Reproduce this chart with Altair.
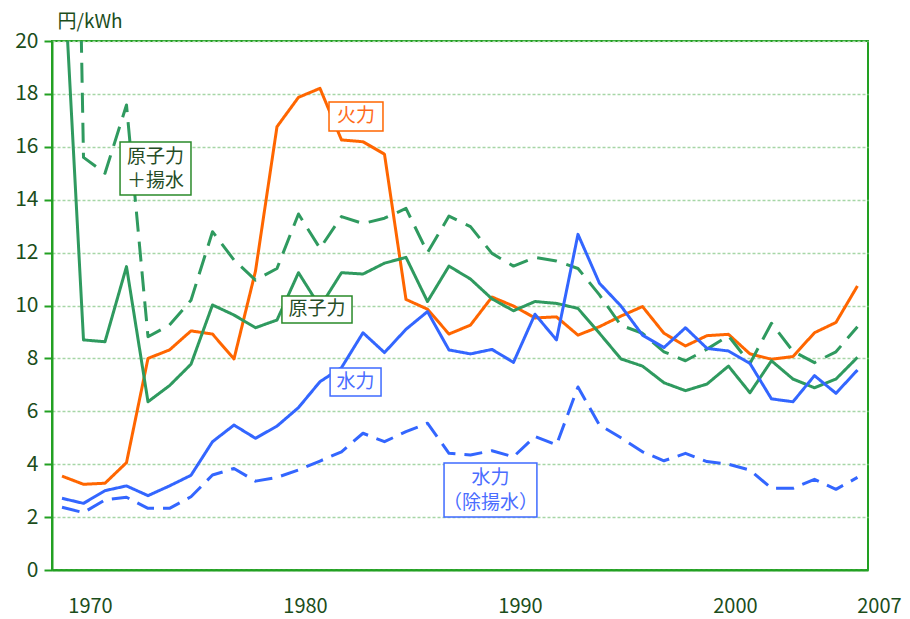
import altair as alt
import pandas as pd

years = list(range(1969, 2007))

fire = [3.55, 3.24, 3.28, 4.06, 8.0, 8.32, 9.04, 8.92, 7.98, 11.3, 16.76, 17.87, 18.21,
        16.26, 16.19, 15.72, 10.23, 9.86, 8.92, 9.26, 10.32, 9.98, 9.53, 9.57, 8.88, 9.2,
        9.6, 9.96, 8.95, 8.47, 8.86, 8.91, 8.17, 7.97, 8.07, 8.97, 9.36, 10.74]
nuclear = [24.0, 8.7, 8.63, 11.47, 6.36, 6.97, 7.78, 10.02, 9.64, 9.16, 9.45, 11.24, 9.95,
           11.24, 11.19, 11.6, 11.82, 10.15, 11.49, 11.0, 10.25, 9.8, 10.15, 10.08, 9.89,
           8.95, 7.98, 7.71, 7.08, 6.78, 7.03, 7.71, 6.7, 7.91, 7.22, 6.89, 7.22, 8.04]
nuc_pump = [60.0, 15.6, 15.0, 17.58, 8.82, 9.26, 10.2, 12.79, 11.72, 10.96, 11.4, 13.46,
            12.16, 13.36, 13.1, 13.3, 13.67, 12.0, 13.38, 12.98, 11.97, 11.49, 11.82, 11.68,
            11.4, 10.4, 9.25, 8.95, 8.25, 7.91, 8.35, 8.85, 7.81, 9.33, 8.27, 7.84, 8.25, 9.2]
hydro = [2.71, 2.52, 3.0, 3.18, 2.81, 3.18, 3.58, 4.85, 5.48, 4.98, 5.44, 6.14, 7.12, 7.65,
         8.97, 8.22, 9.1, 9.77, 8.32, 8.17, 8.34, 7.85, 9.67, 8.7, 12.69, 10.84, 9.98, 8.88,
         8.41, 9.16, 8.38, 8.28, 7.81, 6.47, 6.36, 7.35, 6.68, 7.56]
hydro_ex = [2.37, 2.17, 2.65, 2.75, 2.33, 2.33, 2.77, 3.59, 3.84, 3.36, 3.5, 3.78, 4.12,
            4.47, 5.17, 4.85, 5.23, 5.55, 4.41, 4.35, 4.51, 4.28, 5.05, 4.73, 6.92, 5.48,
            5.0, 4.47, 4.13, 4.41, 4.1, 4.0, 3.78, 3.09, 3.09, 3.43, 3.05, 3.5]

series_names = ["火力", "原子力", "原子力＋揚水", "水力", "水力（除揚水）"]
series_vals = [fire, nuclear, nuc_pump, hydro, hydro_ex]
series_color = ["#ff6600", "#2f9a5f", "#2f9a5f", "#3366ff", "#3366ff"]
series_dash = [[1, 0], [1, 0], [20, 10], [1, 0], [18, 9]]

x_ticks = [1970, 1980, 1990, 2000, 2006.3]
y_ticks = list(range(0, 21, 2))

# annotation boxes (data units)
box_x1 = [1981.42, 1971.70, 1979.23, 1981.47, 1986.77]
box_x2 = [1983.93, 1975.00, 1982.49, 1983.84, 1991.09]
box_y1 = [17.69, 16.18, 10.36, 7.64, 4.05]
box_y2 = [16.60, 14.18, 9.34, 6.58, 2.00]
box_stroke = ["#ff6600", "#2a8a2a", "#2a8a2a", "#3f6bff", "#3f6bff"]

# annotation text lines (data units)
lab_text = ["火力", "原子力", "＋揚水", "原子力", "水力", "水力", "（除揚水）"]
lab_x = [1982.67, 1973.35, 1973.35, 1980.86, 1982.65, 1988.93, 1988.93]
lab_y = [17.15, 15.60, 14.69, 9.85, 7.11, 3.46, 2.55]
lab_color = ["#ff6a1a", "#264d26", "#264d26", "#264d26", "#4a6dff", "#4a6dff", "#4a6dff"]

FONT = "Noto Sans CJK JP"
FRAME = "#22a022"
DARK = "#1b4d1b"

xscale = alt.Scale(domain=[1968.535, 2006.49], nice=False, zero=False)
yscale = alt.Scale(domain=[0, 20], nice=False)

x_axis = alt.Axis(
    values=x_ticks, format="d",
    labelExpr="datum.value > 2005 ? '2007' : datum.label",
    labelOffset={"condition": {"test": "datum.value > 2005", "value": 15}, "value": 6.5},
    ticks=False, grid=False, domainColor=FRAME, domainWidth=2,
    labelPadding=26, labelFontSize=20, labelColor=DARK, labelFont=FONT,
    labelFlush=False, labelOverlap=False, labelBound=False, title=None,
)
y_axis = alt.Axis(
    values=y_ticks, tickSize=8, tickColor=FRAME, tickWidth=2,
    domainColor=FRAME, domainWidth=2, grid=True, gridColor="#a6d6a6",
    gridDash=[3, 2], gridWidth=1.5, labelFontSize=21, labelColor=DARK,
    labelFont=FONT, labelPadding=6,
    title="円/kWh", titleAngle=0, titleAlign="left", titleBaseline="middle",
    titleX=5, titleY=-20, titleFontSize=19, titleFontWeight="normal",
    titleColor=DARK, titleFont=FONT,
)

layers = []
for i, (name, vals) in enumerate(zip(series_names, series_vals)):
    d = pd.DataFrame({"year": years, "value": vals, "series": name})
    layers.append(
        alt.Chart(d).mark_line(
            color=series_color[i], strokeWidth=3, strokeDash=series_dash[i],
            clip=True, strokeCap="butt", strokeJoin="round",
        ).encode(
            x=alt.X("year:Q", scale=xscale, axis=x_axis),
            y=alt.Y("value:Q", scale=yscale, axis=y_axis),
        )
    )

boxes_df = pd.DataFrame({
    "x1": box_x1, "x2": box_x2, "y1": box_y1, "y2": box_y2, "stroke": box_stroke,
})
labels_df = pd.DataFrame({"text": lab_text, "x": lab_x, "y": lab_y, "color": lab_color})

boxes = alt.Chart(boxes_df).mark_rect(fill="white", strokeWidth=1.5).encode(
    x=alt.X("x1:Q", scale=xscale, axis=x_axis),
    x2="x2", y=alt.Y("y1:Q", scale=yscale, axis=y_axis), y2="y2",
    stroke=alt.Stroke("stroke:N", scale=None),
)
texts = alt.Chart(labels_df).mark_text(
    font=FONT, fontSize=19, align="center", baseline="middle",
).encode(
    x=alt.X("x:Q", scale=xscale, axis=x_axis),
    y=alt.Y("y:Q", scale=yscale, axis=y_axis),
    text="text:N",
    color=alt.Color("color:N", scale=None),
)

chart = alt.layer(*layers, boxes, texts).properties(
    width=816, height=529,
    padding={"left": 44, "top": 33, "right": 34, "bottom": 49},
    autosize=alt.AutoSizeParams(type="none"),
).configure(background="white").configure_view(
    stroke=FRAME, strokeWidth=2, strokeOpacity=1
)

chart.save("out.html", embed_options={"renderer": "svg", "actions": False})
